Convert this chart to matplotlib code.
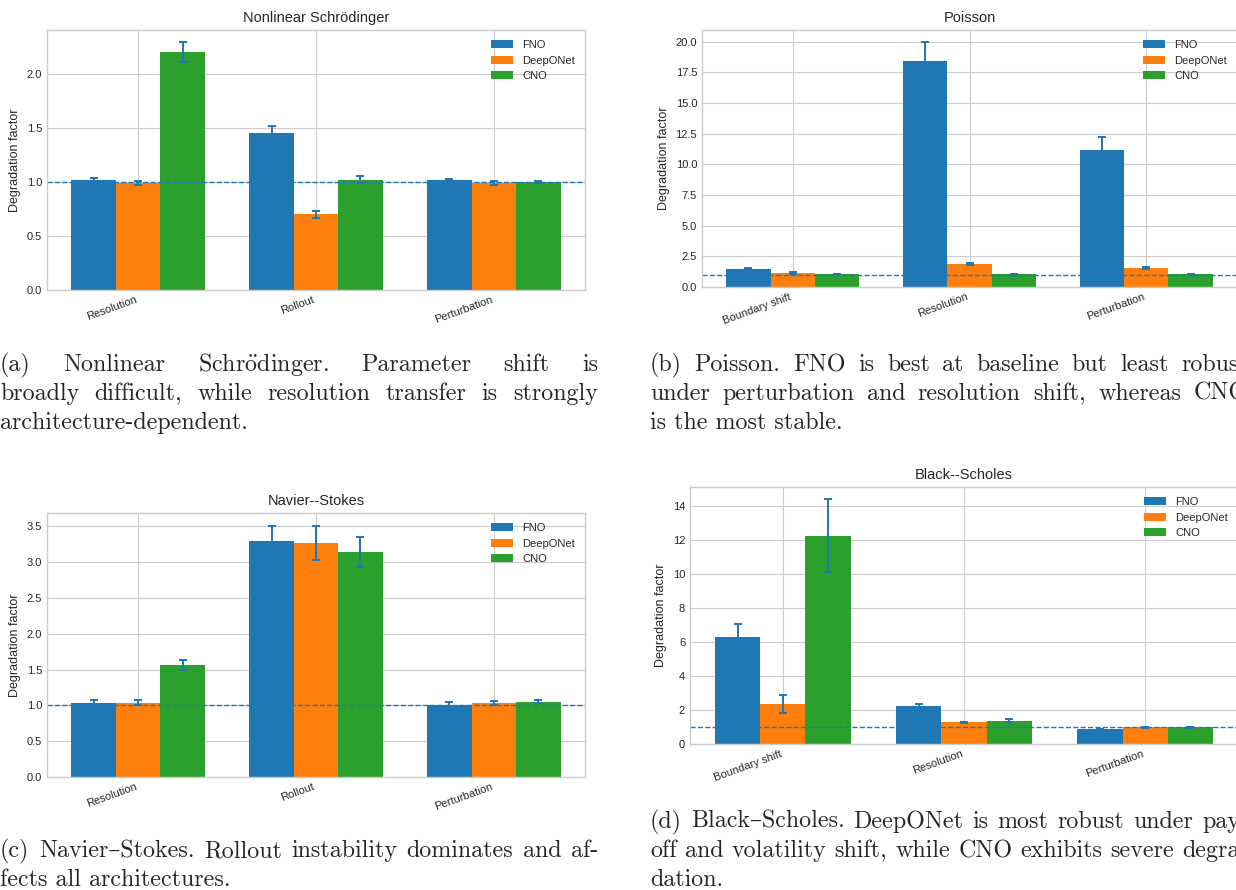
import matplotlib
matplotlib.use("Agg")
import matplotlib.pyplot as plt
import numpy as np

models = ["FNO", "DeepONet", "CNO"]

nls_cats = ["Resolution", "Rollout", "Perturbation"]
nls_fno = [1.02, 1.45, 1.02]
nls_fno_err = [0.015, 0.07, 0.01]
nls_don = [0.99, 0.70, 0.99]
nls_don_err = [0.02, 0.03, 0.02]
nls_cno = [2.20, 1.02, 0.995]
nls_cno_err = [0.09, 0.035, 0.01]

poi_cats = ["Boundary shift", "Resolution", "Perturbation"]
poi_fno = [1.50, 18.4, 11.2]
poi_fno_err = [0.05, 1.55, 1.0]
poi_don = [1.15, 1.90, 1.55]
poi_don_err = [0.08, 0.08, 0.08]
poi_cno = [1.05, 1.05, 1.05]
poi_cno_err = [0.02, 0.02, 0.02]

ns_cats = ["Resolution", "Rollout", "Perturbation"]
ns_fno = [1.04, 3.29, 1.01]
ns_fno_err = [0.03, 0.22, 0.04]
ns_don = [1.04, 3.27, 1.03]
ns_don_err = [0.03, 0.24, 0.03]
ns_cno = [1.56, 3.14, 1.05]
ns_cno_err = [0.07, 0.21, 0.02]

bs_cats = ["Boundary shift", "Resolution", "Perturbation"]
bs_fno = [6.30, 2.22, 0.88]
bs_fno_err = [0.75, 0.15, 0.03]
bs_don = [2.35, 1.27, 0.98]
bs_don_err = [0.55, 0.04, 0.02]
bs_cno = [12.25, 1.37, 0.98]
bs_cno_err = [2.15, 0.08, 0.02]

captions = {
    "a": [r"(a) Nonlinear Schr$\ddot{\mathrm{o}}$dinger. Parameter shift is",
          "broadly difficult, while resolution transfer is strongly",
          "architecture-dependent."],
    "b": ["(b) Poisson. FNO is best at baseline but least robust",
          "under perturbation and resolution shift, whereas CNO",
          "is the most stable."],
    "c": ["(c) Navier–Stokes. Rollout instability dominates and af-",
          "fects all architectures."],
    "d": ["(d) Black–Scholes. DeepONet is most robust under pay-",
          "off and volatility shift, while CNO exhibits severe degra-",
          "dation."],
}

plt.style.use("seaborn-v0_8-whitegrid")
plt.rcParams["font.family"] = ["Liberation Sans", "DejaVu Sans"]
plt.rcParams["mathtext.fontset"] = "cm"

W, H = 1236, 890
fig = plt.figure(figsize=(W / 100, H / 100), dpi=100)


def px_axes(l, t, r, b):
    return fig.add_axes([l / W, 1 - b / H, (r - l) / W, (b - t) / H])


def panel(ax, title, cats, series, errs):
    x = np.arange(len(cats))
    w = 0.25
    colors = ["C0", "C1", "C2"]
    for i, (vals, err) in enumerate(zip(series, errs)):
        ax.bar(x + (i - 1) * w, vals, w, yerr=err, color=colors[i], label=models[i],
               capsize=3, error_kw=dict(ecolor="C0", elinewidth=1.4, capthick=1.4))
    ax.axhline(1.0, ls="--", lw=1, color="C0")
    ax.set_xticks(x)
    ax.set_xticklabels(cats, rotation=20, ha="right", fontsize=8)
    ax.tick_params(axis="y", labelsize=8)
    ax.set_ylabel("Degradation factor", fontsize=9)
    ax.set_title(title, fontsize=10.5)
    ax.legend(loc="upper right", fontsize=8)


ax_a = px_axes(47, 30, 585, 290)
panel(ax_a, "Nonlinear Schrödinger", nls_cats, [nls_fno, nls_don, nls_cno],
      [nls_fno_err, nls_don_err, nls_cno_err])
ax_b = px_axes(702, 30, 1237, 287)
panel(ax_b, "Poisson", poi_cats, [poi_fno, poi_don, poi_cno],
      [poi_fno_err, poi_don_err, poi_cno_err])
ax_c = px_axes(47, 513, 585, 777)
panel(ax_c, "Navier--Stokes", ns_cats, [ns_fno, ns_don, ns_cno],
      [ns_fno_err, ns_don_err, ns_cno_err])
ax_d = px_axes(690, 487, 1238, 744)
panel(ax_d, "Black--Scholes", bs_cats, [bs_fno, bs_don, bs_cno],
      [bs_fno_err, bs_don_err, bs_cno_err])

# captions in a Computer Modern look, justified like the LaTeX page
renderer = fig.canvas.get_renderer()
cap_kw = dict(family=["cmr10", "DejaVu Serif"], fontsize=17.3, va="baseline", ha="left")


def caption(lines, x0, x1, y0, step=29):
    for k, line in enumerate(lines):
        y = 1 - (y0 + k * step) / H
        words = line.split()
        last = k == len(lines) - 1
        if last or len(words) < 2:
            fig.text(x0 / W, y, line, **cap_kw)
            continue
        texts = [fig.text(0, y, wd, **cap_kw) for wd in words]
        widths = [t.get_window_extent(renderer).width for t in texts]
        gap = (x1 - x0 - sum(widths)) / (len(words) - 1)
        xp = x0
        for t, wd in zip(texts, widths):
            t.set_x(xp / W)
            xp += wd + gap


caption(captions["a"], 0, 598, 371)
caption(captions["b"], 650, 1248, 371)
caption(captions["c"], 0, 598, 857)
caption(captions["d"], 650, 1248, 828)

fig.savefig("out.png", dpi=100)
